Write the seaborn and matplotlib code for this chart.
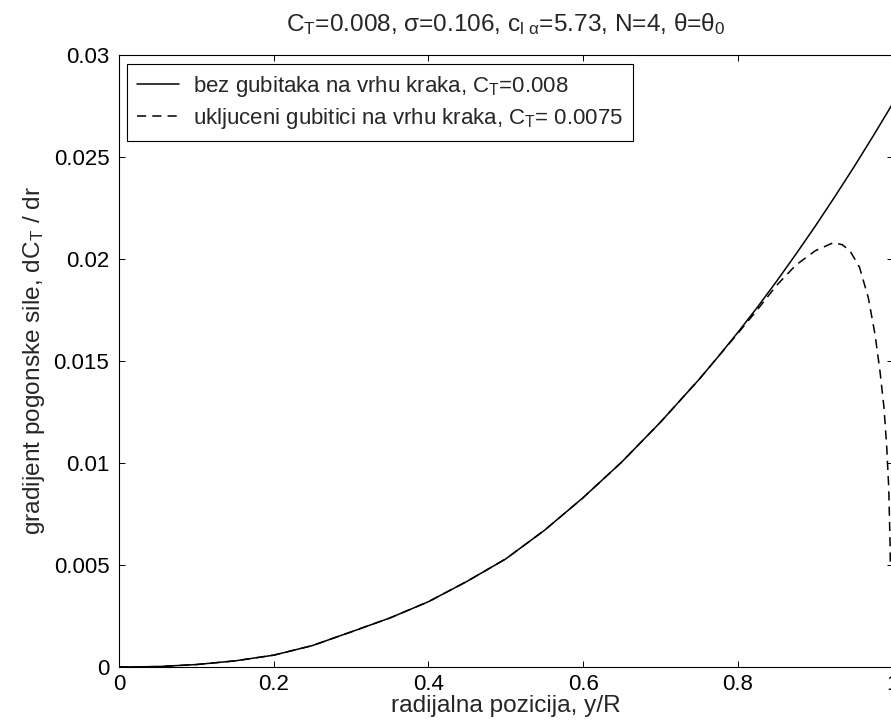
import numpy as np
import pandas as pd
import seaborn as sns
import matplotlib.pyplot as plt

# radijalna pozicija i gradijent pogonske sile, bez gubitaka na vrhu kraka
r_bez = [0.0, 0.05, 0.1, 0.15, 0.2, 0.25, 0.3, 0.35, 0.4, 0.45, 0.5,
         0.55, 0.6, 0.65, 0.7, 0.75, 0.775, 0.8, 0.825, 0.85, 0.875, 0.9,
         0.925, 0.95, 0.975, 1.0]
dct_bez = [0.0, 0.00002, 0.00012, 0.0003, 0.00058, 0.00105, 0.00172, 0.0024,
           0.0032, 0.0042, 0.0053, 0.0067, 0.0083, 0.01005, 0.0120, 0.0141,
           0.01523, 0.0164, 0.01762, 0.0189, 0.02023, 0.0216, 0.02303,
           0.0245, 0.02603, 0.0276]

# ukljuceni gubici na vrhu kraka
r_gub = [0.0, 0.05, 0.1, 0.15, 0.2, 0.25, 0.3, 0.35, 0.4, 0.45, 0.5,
         0.55, 0.6, 0.65, 0.7, 0.75, 0.775, 0.8, 0.825, 0.85, 0.875, 0.9,
         0.9235, 0.935, 0.945, 0.9573, 0.9687, 0.9774, 0.9838, 0.989,
         0.9925, 0.9951, 0.9968, 0.9972]
dct_gub = [0.0, 0.00002, 0.00012, 0.0003, 0.00058, 0.00105, 0.00172, 0.0024,
           0.0032, 0.0042, 0.0053, 0.0067, 0.0083, 0.01005, 0.0120, 0.0141,
           0.01523, 0.01635, 0.0175, 0.0187, 0.0197, 0.0204, 0.0208, 0.0207,
           0.0204, 0.0196, 0.0181, 0.0163, 0.0145, 0.0127, 0.0108, 0.0088,
           0.0061, 0.0050]

y_ticks = [0, 0.005, 0.01, 0.015, 0.02, 0.025, 0.03]
x_ticks = [0, 0.2, 0.4, 0.6, 0.8, 1.0]

sns.set_style('ticks')
plt.rcParams['font.family'] = ['Liberation Sans', 'DejaVu Sans']
plt.rcParams['mathtext.fontset'] = 'custom'
plt.rcParams['mathtext.rm'] = 'Liberation Sans'
plt.rcParams['mathtext.it'] = 'Liberation Sans'
fs = 16
fs_lab = 17.6

df_bez = pd.DataFrame({'r': r_bez, 'dct': dct_bez})
df_gub = pd.DataFrame({'r': r_gub, 'dct': dct_gub})

fig = plt.figure(figsize=(8.91, 7.28), dpi=100)
ax = fig.add_axes([0.1336, 0.0838, 0.8681, 0.8407])

sns.lineplot(data=df_bez, x='r', y='dct', color='black', lw=1.1, ax=ax,
             label=r'bez gubitaka na vrhu kraka, $\mathregular{C_T}$=0.008')
sns.lineplot(data=df_gub, x='r', y='dct', color='black', lw=1.1, ax=ax,
             sort=False, dashes=False,
             label=r'ukljuceni gubitici na vrhu kraka, $\mathregular{C_T}$= 0.0075')
ax.lines[1].set_dashes((6, 4))

ax.set_xlim(0, 1)
ax.set_ylim(0, 0.03)
ax.set_xticks(x_ticks)
ax.set_xticklabels(['%g' % v for v in x_ticks])
ax.set_yticks(y_ticks)
ax.set_yticklabels(['%g' % v for v in y_ticks])
ax.tick_params(direction='in', length=4, width=0.7, top=True, right=True,
               labelsize=fs, colors='black', pad=7)
ax.tick_params(axis='x', pad=5)
for sp in ax.spines.values():
    sp.set_visible(True)
    sp.set_linewidth(0.8)
    sp.set_color('black')

ax.set_xlabel('radijalna pozicija, y/R', fontsize=fs_lab, labelpad=0)
ax.set_ylabel(r'gradijent pogonske sile, d$\mathregular{C_T}$ / dr', fontsize=fs_lab, labelpad=5)
ax.set_title(r'$\mathregular{C_T}$=0.008, σ=0.106, $\mathregular{c_{l\ α}}$=5.73, N=4, θ=$\mathregular{θ_0}$',
             fontsize=fs_lab, pad=17)

leg = ax.legend(loc='upper left', bbox_to_anchor=(0.0105, 0.985), borderaxespad=0,
                fontsize=fs, fancybox=False, framealpha=1, edgecolor='black',
                handlelength=1.9, handletextpad=0.6, borderpad=0.45, labelspacing=0.3)
leg.get_frame().set_linewidth(0.8)
leg.get_lines()[1].set_dashes((6, 4))

fig.savefig('out.png', dpi=100)
